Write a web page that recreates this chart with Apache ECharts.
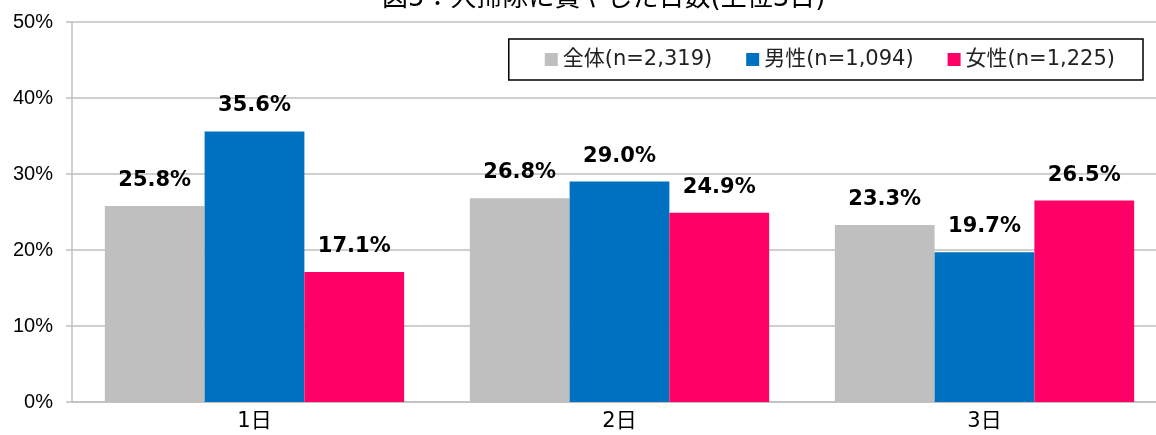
<!DOCTYPE html>
<html>
<head>
<meta charset="utf-8">
<script src="https://cdn.jsdelivr.net/npm/echarts@6/dist/echarts.min.js"></script>
<style>
  html, body { margin: 0; padding: 0; background: #fff; }
  #main { width: 1156px; height: 435px; }
</style>
</head>
<body>
<div id="main"></div>
<script>
var categories = ["1日", "2日", "3日"];
var seriesNames = ["全体(n=2,319)", "男性(n=1,094)", "女性(n=1,225)"];
var zentai = [25.8, 26.8, 23.3];
var dansei = [35.6, 29.0, 19.7];
var josei = [17.1, 24.9, 26.5];
var colors = ["#BFBFBF", "#0070C0", "#FF0066"];

var chartDom = document.getElementById("main");
var myChart = echarts.init(chartDom);
// latin glyphs from DejaVu (wide, like Meiryo), kanji from Noto CJK
var font = "'DejaVu Sans', 'Noto Sans CJK JP', sans-serif";

var labelStyle = {
  show: true,
  position: "top",
  distance: 15,
  formatter: function (p) {
    return p.value.toFixed(1) + "%";
  },
  fontSize: 21,
  fontWeight: "bold",
  color: "#000",
  fontFamily: "'DejaVu Sans', sans-serif"
};

var option = {
  animation: false,
  textStyle: { fontFamily: font },
  title: {
    text: "図5：大掃除に費やした日数(上位3日)",
    left: 377,
    top: -19,
    textStyle: { fontSize: 26, fontWeight: "normal", color: "#000", fontFamily: font }
  },
  legend: {
    data: seriesNames,
    right: 13,
    top: 39,
    padding: [10, 28, 10, 36],
    borderColor: "#000",
    borderWidth: 1.5,
    itemWidth: 13,
    itemHeight: 13,
    itemGap: 34,
    icon: "rect",
    textStyle: { fontSize: 21, color: "#222", fontFamily: font }
  },
  grid: {
    left: 72,
    width: 1095,
    top: 22,
    bottom: 33,
    outerBoundsMode: "none"
  },
  xAxis: {
    type: "category",
    data: categories,
    axisLine: { lineStyle: { color: "#BFBFBF", width: 1.5 } },
    axisTick: { show: false },
    axisLabel: { fontSize: 21, color: "#000", margin: 9, fontFamily: font }
  },
  yAxis: {
    type: "value",
    min: 0,
    max: 50,
    interval: 10,
    axisLine: { show: true, lineStyle: { color: "#BFBFBF", width: 1.5 } },
    axisTick: { show: true, length: 6, lineStyle: { color: "#BFBFBF", width: 1.5 } },
    splitLine: { lineStyle: { color: "#BFBFBF", width: 1.5 } },
    axisLabel: {
      formatter: "{value}%",
      fontSize: 20,
      color: "#000",
      margin: 19,
      fontFamily: "Arial, 'Liberation Sans', sans-serif"
    }
  },
  series: [
    { name: seriesNames[0], type: "bar", data: zentai, itemStyle: { color: colors[0] }, label: labelStyle, barGap: "0%", barCategoryGap: "18%" },
    { name: seriesNames[1], type: "bar", data: dansei, itemStyle: { color: colors[1] }, label: labelStyle, barGap: "0%", barCategoryGap: "18%" },
    { name: seriesNames[2], type: "bar", data: josei, itemStyle: { color: colors[2] }, label: labelStyle, barGap: "0%", barCategoryGap: "18%" }
  ]
};

option && myChart.setOption(option);
</script>
</body>
</html>
